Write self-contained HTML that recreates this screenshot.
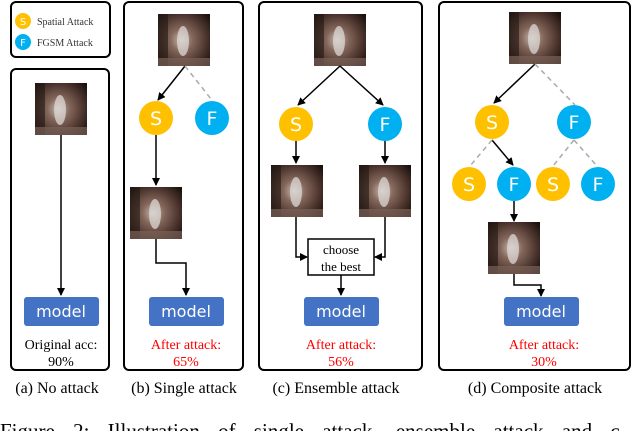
<!DOCTYPE html>
<html><head><meta charset="utf-8"><style>
html,body{margin:0;padding:0;background:#fff;width:640px;height:431px;overflow:hidden}
svg{display:block}
.serif{font-family:"Liberation Serif",serif}
.sans{font-family:"DejaVu Sans","Liberation Sans",sans-serif}
</style></head><body>
<svg width="640" height="431" viewBox="0 0 640 431" xmlns="http://www.w3.org/2000/svg">
<defs>
<marker id="ah" markerWidth="8" markerHeight="8" refX="7" refY="4" orient="auto" markerUnits="userSpaceOnUse">
<path d="M0,0 L8,4 L0,8 Z" fill="#000"/></marker>
<radialGradient id="cat" cx="0.45" cy="0.5" r="0.7">
<stop offset="0" stop-color="#c8bcb4"/><stop offset="0.3" stop-color="#85685c"/><stop offset="0.7" stop-color="#4a332c"/><stop offset="1" stop-color="#1a100c"/></radialGradient>
<g id="img"><rect width="52" height="52" fill="url(#cat)"/><rect x="0" y="0" width="10" height="52" fill="#201510" opacity="0.6"/><ellipse cx="25" cy="27" rx="6" ry="15" fill="#ddd8d6" opacity="0.75"/><rect x="0" y="44" width="52" height="8" fill="#7a6258" opacity="0.7"/></g>
</defs>
<g fill="none" stroke="#000" stroke-width="2">
<rect x="11" y="2" width="99" height="55" rx="5"/>
<rect x="11" y="69" width="98" height="301" rx="5"/>
<rect x="124" y="2" width="119" height="368" rx="5"/>
<rect x="259" y="2" width="163" height="368" rx="5"/>
<rect x="439" y="2" width="191" height="368" rx="5"/>
</g>
<circle cx="23" cy="21" r="8" fill="#FFC000"/><text x="23" y="25" font-size="10" fill="#fff" text-anchor="middle" class="sans">S</text>
<circle cx="23" cy="42" r="8" fill="#00B0F0"/><text x="23" y="46" font-size="10" fill="#fff" text-anchor="middle" class="sans">F</text>
<text x="37" y="25" font-size="10" class="serif" fill="#333">Spatial Attack</text>
<text x="37" y="46" font-size="10" class="serif" fill="#333">FGSM Attack</text>
<use href="#img" x="35" y="83"/>
<use href="#img" x="158" y="14"/>
<use href="#img" x="130" y="187"/>
<use href="#img" x="314" y="14"/>
<use href="#img" x="271" y="165"/>
<use href="#img" x="359" y="165"/>
<use href="#img" x="509" y="12"/>
<use href="#img" x="488" y="222"/>
<g stroke="#000" stroke-width="1.5" fill="none" marker-end="url(#ah)">
<line x1="61" y1="135" x2="61" y2="295"/>
<line x1="185" y1="66" x2="158" y2="100"/>
<line x1="156" y1="135" x2="156" y2="185"/>
<polyline points="156,239 156,263 186,263 186,295"/>
<line x1="340" y1="66" x2="298" y2="105"/>
<line x1="340" y1="66" x2="383" y2="105"/>
<line x1="296" y1="141" x2="296" y2="163"/>
<line x1="385" y1="141" x2="385" y2="163"/>
<polyline points="296,217 296,257 307,257"/>
<polyline points="385,217 385,257 375,257"/>
<line x1="341" y1="275" x2="341" y2="295"/>
<line x1="535" y1="64" x2="494" y2="103"/>
<line x1="492" y1="140" x2="513" y2="165"/>
<line x1="514" y1="201" x2="514" y2="221"/>
<polyline points="514,274 514,285 541,285 541,296"/>
</g>
<g stroke="#aaa" stroke-width="1.5" stroke-dasharray="5,4" fill="none">
<line x1="185" y1="66" x2="211" y2="99"/>
<line x1="535" y1="64" x2="575" y2="105"/>
<line x1="492" y1="140" x2="470" y2="166"/>
<line x1="574" y1="140" x2="553" y2="166"/>
<line x1="574" y1="140" x2="597" y2="166"/>
</g>
<g class="sans" font-size="19" fill="#fff" text-anchor="middle">
<circle cx="156" cy="118" r="17" fill="#FFC000"/><text x="156" y="125">S</text>
<circle cx="212" cy="118" r="17" fill="#00B0F0"/><text x="212" y="125">F</text>
<circle cx="296" cy="124" r="17" fill="#FFC000"/><text x="296" y="131">S</text>
<circle cx="385" cy="124" r="17" fill="#00B0F0"/><text x="385" y="131">F</text>
<circle cx="492" cy="122" r="17" fill="#FFC000"/><text x="492" y="129">S</text>
<circle cx="574" cy="122" r="17" fill="#00B0F0"/><text x="574" y="129">F</text>
<circle cx="469" cy="184" r="17" fill="#FFC000"/><text x="469" y="191">S</text>
<circle cx="514" cy="184" r="17" fill="#00B0F0"/><text x="514" y="191">F</text>
<circle cx="553" cy="184" r="17" fill="#FFC000"/><text x="553" y="191">S</text>
<circle cx="598" cy="184" r="17" fill="#00B0F0"/><text x="598" y="191">F</text>
</g>
<rect x="308" y="239" width="66" height="36" fill="#fff" stroke="#000" stroke-width="1.5"/>
<text x="341" y="254" font-size="13" text-anchor="middle" class="serif">choose</text>
<text x="341" y="271" font-size="13" text-anchor="middle" class="serif">the best</text>
<g fill="#4472C4">
<rect x="24" y="297" width="75" height="29" rx="3"/>
<rect x="149" y="297" width="75" height="29" rx="3"/>
<rect x="304" y="297" width="75" height="29" rx="3"/>
<rect x="504" y="297" width="75" height="29" rx="3"/>
</g>
<g class="sans" font-size="16" fill="#fff" text-anchor="middle">
<text x="61" y="317">model</text><text x="186" y="317">model</text>
<text x="341" y="317">model</text><text x="541" y="317">model</text>
</g>
<g class="serif" font-size="14" text-anchor="middle">
<text x="61" y="349" fill="#000">Original acc:</text><text x="61" y="366" fill="#000">90%</text>
<text x="186" y="349" fill="#f00">After attack:</text><text x="186" y="366" fill="#f00">65%</text>
<text x="341" y="349" fill="#f00">After attack:</text><text x="341" y="366" fill="#f00">56%</text>
<text x="544" y="349" fill="#f00">After attack:</text><text x="544" y="366" fill="#f00">30%</text>
</g>
<g class="serif" font-size="16" text-anchor="middle">
<text x="57" y="393">(a) No attack</text>
<text x="184" y="393">(b) Single attack</text>
<text x="336" y="393">(c) Ensemble attack</text>
<text x="535" y="393">(d) Composite attack</text>
</g>
<text x="0" y="438" font-size="21" class="serif" word-spacing="13">Figure 2: Illustration of single attack, ensemble attack and c</text>
</svg>
</body></html>
